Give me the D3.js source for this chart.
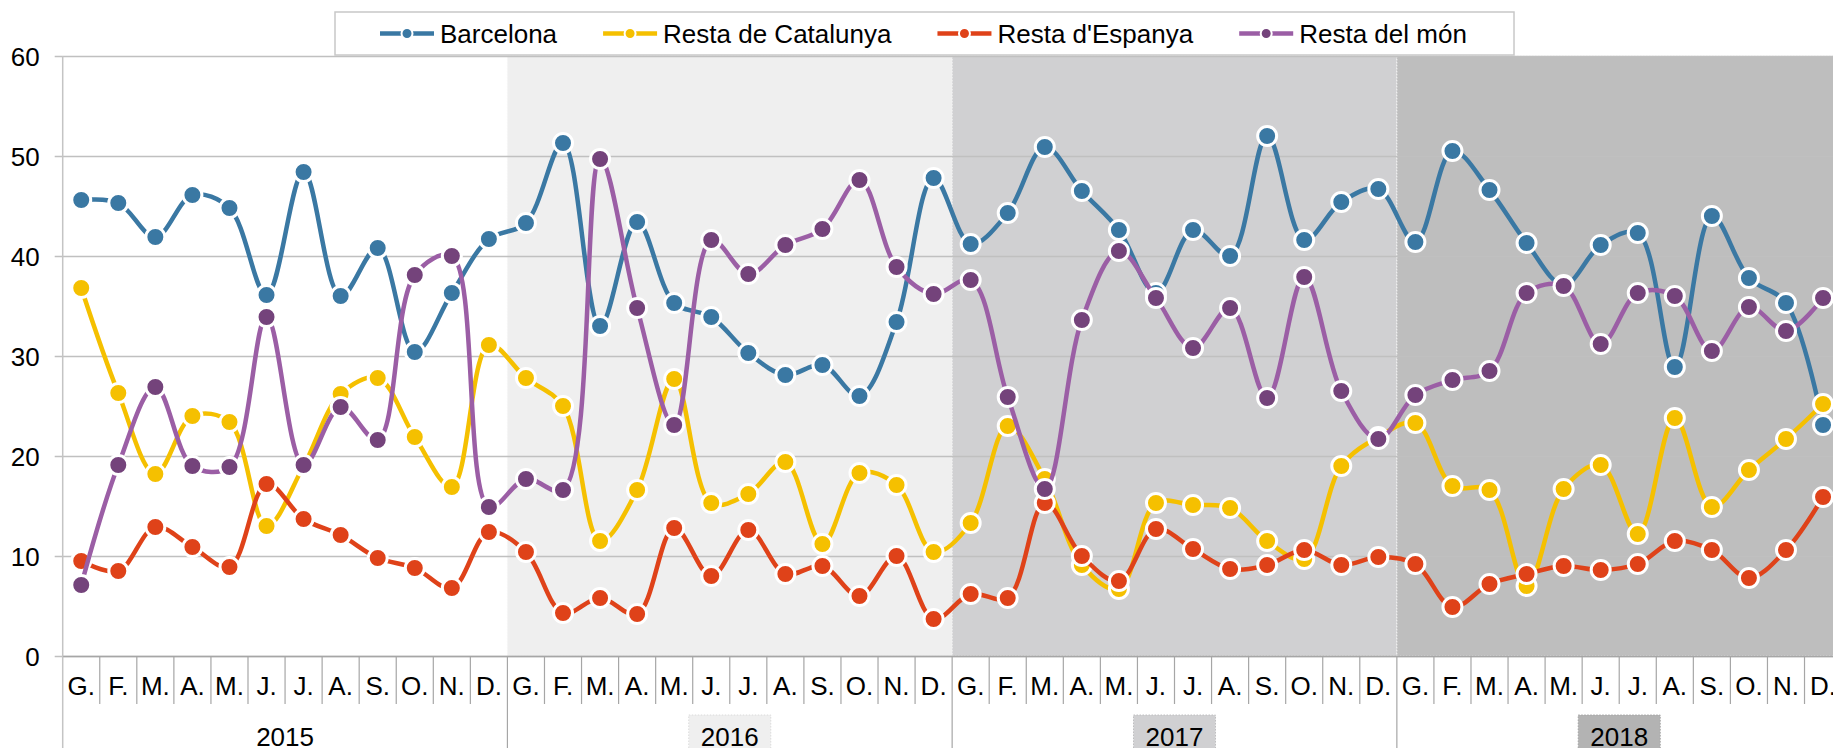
<!DOCTYPE html>
<html>
<head>
<meta charset="utf-8">
<script src="https://cdn.jsdelivr.net/npm/d3@7"></script>
<style>
  html, body { margin: 0; padding: 0; background: #ffffff; overflow: hidden; }
  svg text { font-family: "Liberation Sans", Arial, sans-serif; fill: #000; }
</style>
</head>
<body>
<svg id="chart" width="1833" height="748"></svg>
<script>
// chart data
const months = ["G.", "F.", "M.", "A.", "M.", "J.", "J.", "A.", "S.", "O.", "N.", "D."];
const years = ["2015", "2016", "2017", "2018"];
const seriesNames = ["Barcelona", "Resta de Catalunya", "Resta d'Espanya", "Resta del món"];
const yTicks = [0, 10, 20, 30, 40, 50, 60];

const barcelona = [
  45.6, 45.3, 41.9, 46.1, 44.8, 36.1, 48.4, 36.0, 40.8, 30.4, 36.3, 41.7,
  43.3, 51.3, 33.0, 43.4, 35.3, 33.9, 30.3, 28.1, 29.1, 26.0, 33.4, 47.8,
  41.2, 44.3, 50.9, 46.5, 42.6, 36.3, 42.6, 40.0, 52.0, 41.6, 45.4, 46.7,
  41.4, 50.5, 46.6, 41.3, 37.1, 41.1, 42.3, 28.9, 44.0, 37.8, 35.3, 23.1
];
const restaCatalunya = [
  36.8, 26.3, 18.2, 24.0, 23.4, 13.0, 19.0, 26.2, 27.8, 21.9, 16.9, 31.1,
  27.8, 25.0, 11.5, 16.6, 27.7, 15.3, 16.2, 19.4, 11.2, 18.3, 17.1, 10.4,
  13.3, 23.0, 17.7, 9.1, 6.7, 15.3, 15.1, 14.8, 11.5, 9.7, 19.0, 21.9,
  23.3, 17.0, 16.6, 7.0, 16.7, 19.1, 12.2, 23.8, 14.9, 18.6, 21.7, 25.2
];
const restaEspanya = [
  9.5, 8.5, 12.9, 10.9, 8.9, 17.2, 13.7, 12.1, 9.8, 8.8, 6.8, 12.4,
  10.4, 4.3, 5.8, 4.2, 12.8, 8.0, 12.6, 8.2, 9.0, 6.0, 10.0, 3.7,
  6.2, 5.8, 15.3, 10.0, 7.5, 12.7, 10.7, 8.7, 9.1, 10.6, 9.1, 9.9,
  9.2, 4.9, 7.2, 8.2, 9.0, 8.6, 9.2, 11.5, 10.6, 7.8, 10.6, 15.9
];
const restaMon = [
  7.1, 19.1, 26.9, 19.0, 18.9, 33.9, 19.1, 24.9, 21.6, 38.1, 40.0, 14.9,
  17.7, 16.6, 49.7, 34.8, 23.1, 41.6, 38.2, 41.1, 42.7, 47.6, 38.9, 36.2,
  37.6, 25.9, 16.7, 33.6, 40.5, 35.8, 30.8, 34.8, 25.8, 37.9, 26.5, 21.7,
  26.1, 27.6, 28.5, 36.3, 37.0, 31.2, 36.3, 36.0, 30.5, 34.9, 32.5, 35.8
];

// styles
const lineColors = ["#3a78a3", "#f5c000", "#df4219", "#9b5ea5"];
const dotColors = ["#3a78a3", "#f5c000", "#df4219", "#74437b"];
const yearFill = ["#ffffff", "#efefef", "#d0d0d2", "#bebebe"];
const yearBoxFill = [null, "#efefef", "#d0d0d2", "#b3b3b3"];

const allSeries = [barcelona, restaCatalunya, restaEspanya, restaMon];

const WIDTH = 1833, HEIGHT = 748;
const X0 = 62.7;          // left edge of plot
const BAND = 37.06;       // width of one month
const Y_TOP = 56, Y_BOTTOM = 656;
const FONT = 26;

const svg = d3.select("#chart");

const nMonths = years.length * months.length;
const idx = d3.range(nMonths);

const x = d3.scaleBand().domain(idx).range([X0, X0 + BAND * nMonths]).padding(0);
const y = d3.scaleLinear().domain([0, 60]).range([Y_BOTTOM, Y_TOP]);
const plotW = BAND * nMonths;

// shaded year regions
svg.append("g")
  .selectAll("rect")
  .data(years)
  .join("rect")
  .attr("x", (d, i) => x(i * 12))
  .attr("y", y(60))
  .attr("width", BAND * 12)
  .attr("height", y(0) - y(60))
  .attr("fill", (d, i) => yearFill[i])
  .attr("stroke", (d, i) => i === 0 ? "none" : "#f4f4f4")
  .attr("stroke-width", 1)
  .attr("stroke-dasharray", "1.5,1.5");

// y axis: gridlines, labels
const yAxis = d3.axisLeft(y)
  .tickValues(yTicks)
  .tickSize(plotW + 8)
  .tickPadding(15)
  .tickFormat(d3.format("d"));

const gy = svg.append("g")
  .attr("transform", `translate(${X0 + plotW}, 0)`)
  .call(yAxis);
gy.select(".domain").remove();
gy.selectAll(".tick line").attr("stroke", "#c0c0c0").attr("stroke-width", 1.5);
gy.selectAll(".tick text")
  .style("font-size", FONT + "px")
  .attr("dy", "0.36em");

// left axis line
svg.append("line")
  .attr("x1", X0).attr("x2", X0)
  .attr("y1", y(60)).attr("y2", HEIGHT)
  .attr("stroke", "#c4c4c4").attr("stroke-width", 1.5);

// x axis: month labels
const xAxis = d3.axisBottom(x)
  .tickSize(0)
  .tickPadding(21)
  .tickFormat(i => months[i % 12]);

const gx = svg.append("g")
  .attr("transform", `translate(0, ${Y_BOTTOM})`)
  .call(xAxis);
gx.select(".domain").attr("stroke", "#a6a6a6").attr("stroke-width", 1.5);
gx.selectAll(".tick text").style("font-size", FONT + "px");

// month separators
svg.append("g")
  .selectAll("line")
  .data(idx.slice(1))
  .join("line")
  .attr("x1", d => x(d)).attr("x2", d => x(d))
  .attr("y1", Y_BOTTOM)
  .attr("y2", d => d % 12 === 0 ? HEIGHT : 704)
  .attr("stroke", "#a6a6a6")
  .attr("stroke-width", 1.2);

// year labels
const yearG = svg.append("g");
years.forEach((yr, i) => {
  const cx = x(i * 12) + BAND * 6;
  if (yearBoxFill[i]) {
    yearG.append("rect")
      .attr("x", cx - 41).attr("y", 715)
      .attr("width", 82).attr("height", 50)
      .attr("fill", yearBoxFill[i])
      .attr("stroke", d3.color(yearBoxFill[i]).darker(0.25))
      .attr("stroke-dasharray", "1.5,1.5");
  }
  yearG.append("text")
    .attr("x", cx).attr("y", 746)
    .attr("text-anchor", "middle")
    .style("font-size", FONT + "px")
    .text(yr);
});

// series lines and markers
const line = d3.line()
  .x((d, i) => x(i) + BAND / 2)
  .y(d => y(d))
  .curve(d3.curveCatmullRom.alpha(0.5));

allSeries.forEach((vals, s) => {
  const g = svg.append("g");
  g.append("path")
    .datum(vals)
    .attr("d", line)
    .attr("fill", "none")
    .attr("stroke", lineColors[s])
    .attr("stroke-width", 4.5);
  g.selectAll("circle")
    .data(vals)
    .join("circle")
    .attr("cx", (d, i) => x(i) + BAND / 2)
    .attr("cy", d => y(d))
    .attr("r", 9.5)
    .attr("fill", dotColors[s])
    .attr("stroke", "#ffffff")
    .attr("stroke-width", 3);
});

// legend
const legend = svg.append("g");
legend.append("rect")
  .attr("x", 335).attr("y", 12)
  .attr("width", 1179).attr("height", 43)
  .attr("fill", "#ffffff")
  .attr("stroke", "#c8c8c8")
  .attr("stroke-width", 1.5);

let lx = 380;
const ly = 33.5;
seriesNames.forEach((name, s) => {
  legend.append("line")
    .attr("x1", lx).attr("x2", lx + 54)
    .attr("y1", ly).attr("y2", ly)
    .attr("stroke", lineColors[s])
    .attr("stroke-width", 4.5);
  legend.append("circle")
    .attr("cx", lx + 27).attr("cy", ly)
    .attr("r", 5.5)
    .attr("fill", dotColors[s])
    .attr("stroke", "#ffffff")
    .attr("stroke-width", 2);
  const t = legend.append("text")
    .attr("x", lx + 60).attr("y", ly)
    .attr("dy", "0.36em")
    .style("font-size", FONT + "px")
    .text(name);
  lx += 60 + t.node().getComputedTextLength() + 46;
});
</script>
</body>
</html>
